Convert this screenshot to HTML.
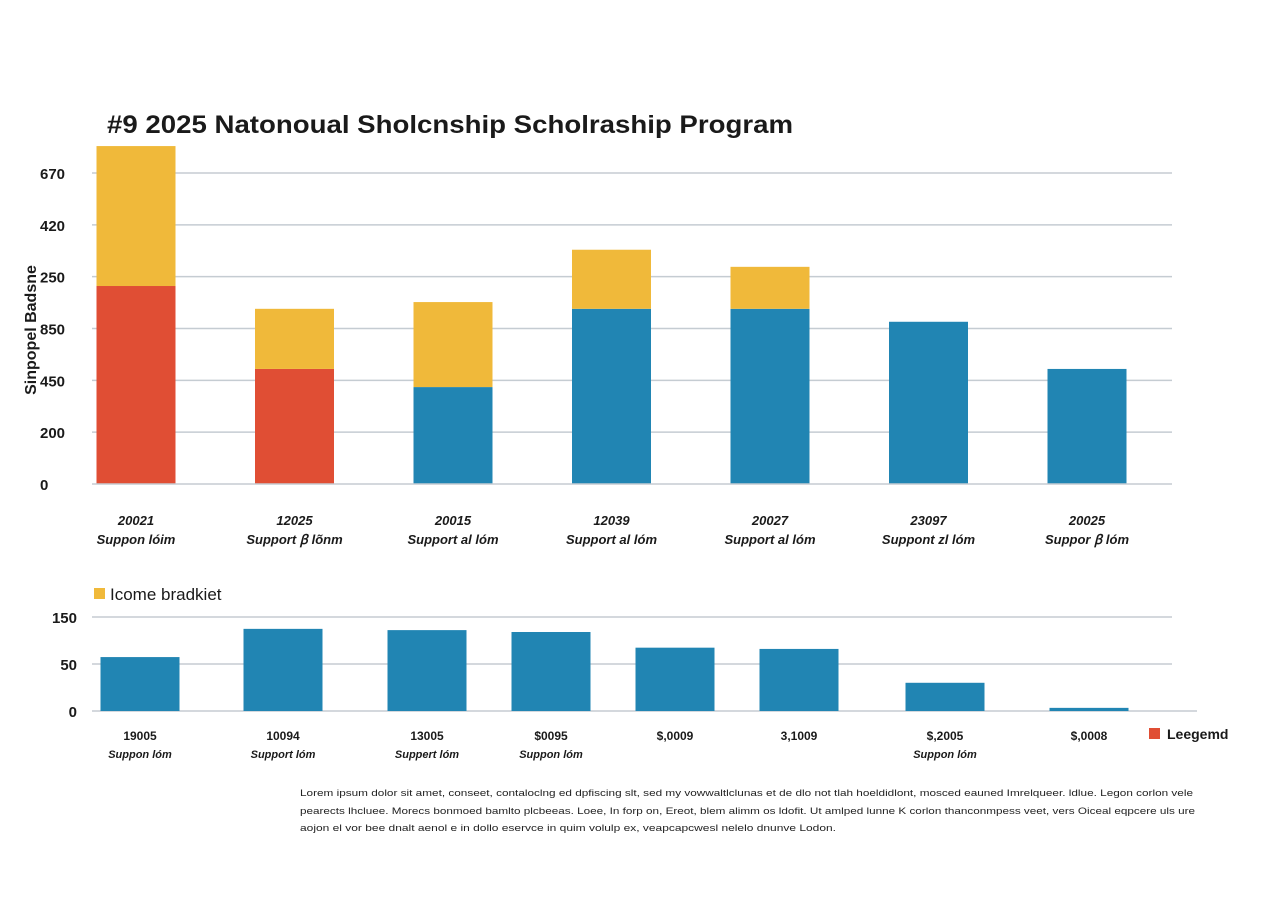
<!DOCTYPE html>
<html><head><meta charset="utf-8"><style>
body{margin:0;background:#fff;font-family:"Liberation Sans",Arial,sans-serif;}
svg text{font-family:"Liberation Sans",Arial,sans-serif;}
</style></head><body>
<svg id="c" width="1280" height="896" viewBox="0 0 1280 896" xmlns="http://www.w3.org/2000/svg">
<text x="107" y="133" font-size="25" font-weight="bold" fill="#1a1a1a" textLength="686" lengthAdjust="spacingAndGlyphs">#9 2025 Natonoual Sholcnship Scholraship Program</text>
<text transform="translate(36,330) rotate(-90)" text-anchor="middle" font-size="16" font-weight="bold" fill="#1a1a1a">Sinpopel Badsne</text>
<g id="top"></g><g id="bot"></g>
<rect x="94" y="588" width="11" height="11" fill="#f0b93a"/>
<text x="110" y="600" font-size="17" fill="#1a1a1a">Icome bradkiet</text>
<rect x="1149" y="728" width="11" height="11" fill="#e04e34"/>
<text x="1167" y="739" font-size="14" font-weight="bold" fill="#1a1a1a">Leegemd</text>
<g font-size="9.5" fill="#222">
<text x="300" y="796" textLength="893" lengthAdjust="spacingAndGlyphs">Lorem ipsum dolor sit amet, conseet, contaloclng ed dpfiscing slt, sed my vowwaltlclunas et de dlo not tlah hoeldidlont, mosced eauned Imrelqueer. ldlue. Legon corlon vele</text>
<text x="300" y="814" textLength="895" lengthAdjust="spacingAndGlyphs">pearects lhcluee.  Morecs bonmoed bamlto plcbeeas. Loee, In forp on, Ereot, blem alimm os ldofit. Ut amlped lunne K corlon thanconmpess veet, vers Oiceal eqpcere uls ure</text>
<text x="300" y="831" textLength="536" lengthAdjust="spacingAndGlyphs">aojon el vor bee dnalt aenol e  in dollo eservce in quim volulp ex, veapcapcwesl nelelo dnunve Lodon.</text>
</g>
</svg>
<script>
const topCats=["20021","12025","20015","12039","20027","23097","20025"];
const topSubs=["Suppon lóim","Support ꞵ lõnm","Support al lóm","Support al lóm","Support al lóm","Suppont zl lóm","Suppor ꞵ lóm"];
const baseVals=[382,222,187,338,338,313,222];
const incomeVals=[270,116,164,114,81,0,0];
const baseIsRed=[true,true,false,false,false,false,false];
const topTicks=[0,100,200,300,400,500,600];
const topTickLabels=["0","200","450","850","250","420","670"];
const botCats=["19005","10094","13005","$0095","$,0009","3,1009","$,2005","$,0008"];
const botSubs=["Suppon lóm","Support lóm","Suppert lóm","Suppon lóm","","","Suppon lóm",""];
const botVals=[86,131,129,126,101,99,45,5];
const botTicks=[0,75,150];
const botTickLabels=["0","50","150"];

const NS="http://www.w3.org/2000/svg";
function mk(p,tag,a,txt){const e=document.createElementNS(NS,tag);for(const k in a)e.setAttribute(k,a[k]);if(txt!==undefined)e.textContent=txt;p.appendChild(e);return e;}
const tg=document.getElementById('top'),bg=document.getElementById('bot');
const ty=v=>484-v*0.5183;
const tx=i=>136+i*158.5;
topTicks.forEach((t,i)=>{
 if(i>0){const l=mk(tg,'line',{x1:92,x2:1172,y1:ty(t),y2:ty(t),stroke:'#c5ccd2','stroke-width':1.5});
 }
 const e=mk(tg,'text',{x:40,y:ty(t)+6,'font-size':15,'font-weight':'bold',fill:'#1a1a1a'},topTickLabels[i]);
 
});
topCats.forEach((c,i)=>{
 const x=tx(i)-39.5,w=79;
 const b=mk(tg,'rect',{x:x,y:ty(baseVals[i]),width:w,height:ty(0)-ty(baseVals[i]),fill:baseIsRed[i]?'#e04e34':'#2185b3'});
 
 if(incomeVals[i]>0){const s=mk(tg,'rect',{x:x,y:ty(baseVals[i]+incomeVals[i]),width:w,height:ty(baseVals[i])-ty(baseVals[i]+incomeVals[i]),fill:'#f0b93a'});
 }
 const a=mk(tg,'text',{x:tx(i),y:525,'text-anchor':'middle','font-size':13,'font-weight':'bold','font-style':'italic',fill:'#1a1a1a'},c);
 
 const s2=mk(tg,'text',{x:tx(i),y:544,'text-anchor':'middle','font-size':13,'font-weight':'bold','font-style':'italic',fill:'#1a1a1a'},topSubs[i]);
 
});
const bl=mk(tg,'line',{x1:92,x2:1172,y1:484,y2:484,stroke:'#c5ccd2','stroke-width':1.5});


const by=v=>711-v*0.627;
const bxs=[140,283,427,551,675,799,945,1089];
botTicks.forEach((t,i)=>{
 const l=mk(bg,'line',{x1:92,x2:i==0?1197:1172,y1:by(t),y2:by(t),stroke:'#c5ccd2','stroke-width':1.5});
 
 const e=mk(bg,'text',{x:77,y:by(t)+6,'text-anchor':'end','font-size':15,'font-weight':'bold',fill:'#1a1a1a'},botTickLabels[i]);
 
});
botCats.forEach((c,i)=>{
 const b=mk(bg,'rect',{x:bxs[i]-39.5,y:by(botVals[i]),width:79,height:by(0)-by(botVals[i]),fill:'#2185b3'});
 
 const a=mk(bg,'text',{x:bxs[i],y:740,'text-anchor':'middle','font-size':12,'font-weight':'bold',fill:'#1a1a1a'},c);
 
 if(botSubs[i]){const s=mk(bg,'text',{x:bxs[i],y:758,'text-anchor':'middle','font-size':11,'font-weight':'bold','font-style':'italic',fill:'#1a1a1a'},botSubs[i]);
 }
});
</script>
</body></html>
